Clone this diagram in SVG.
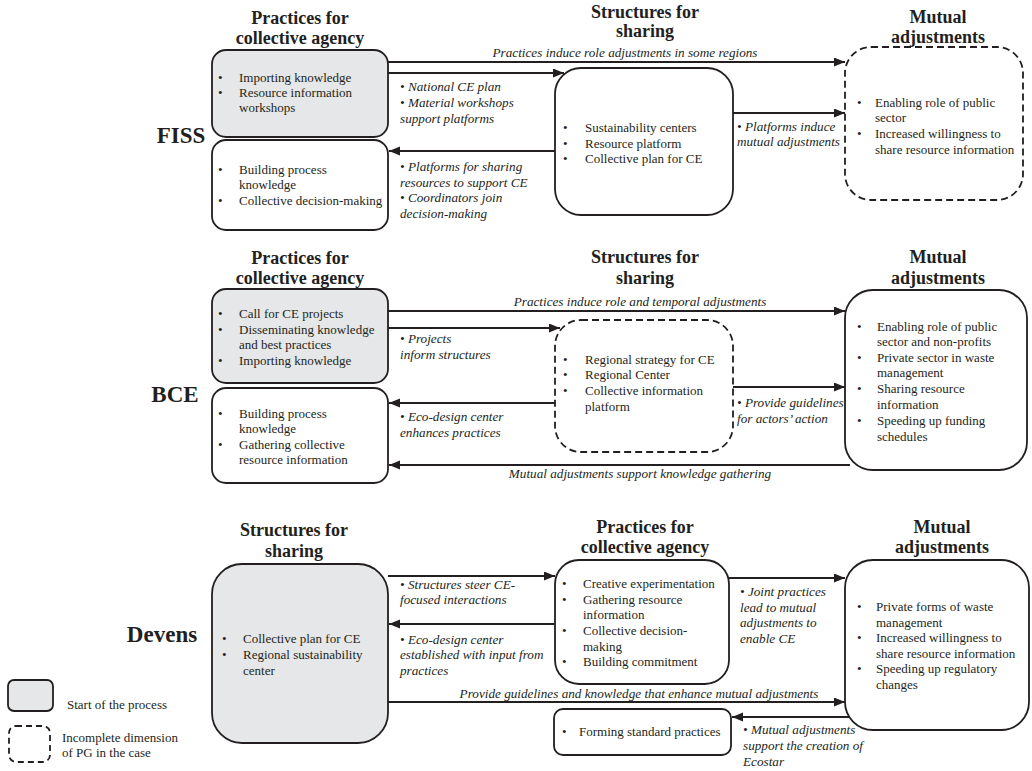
<svg xmlns="http://www.w3.org/2000/svg" width="1032" height="771" viewBox="0 0 1032 771">
<defs>
<marker id="ah" markerUnits="userSpaceOnUse" markerWidth="12" markerHeight="10" refX="11" refY="4.5" orient="auto">
<path d="M0,0 L11,4.5 L0,9 Z" fill="#231f20"/>
</marker>
<style>
.bx{fill:#fff;stroke:#231f20;stroke-width:1.8}
.st{fill:#e6e7e8;stroke:#231f20;stroke-width:1.8}
.ds{fill:#fff;stroke:#231f20;stroke-width:1.8;stroke-dasharray:7,4}
.t{font-family:"Liberation Serif","Times New Roman",serif;font-size:13px;fill:#231f20}
.i{font-family:"Liberation Serif","Times New Roman",serif;font-size:13.2px;font-style:italic;fill:#231f20}
.h{font-family:"Liberation Serif","Times New Roman",serif;font-size:18px;font-weight:bold;fill:#231f20;text-anchor:middle}
.c{font-family:"Liberation Serif","Times New Roman",serif;font-size:23px;font-weight:bold;fill:#231f20;text-anchor:middle}
.a{stroke:#231f20;stroke-width:1.8;fill:none;marker-end:url(#ah)}
</style>
</defs>
<rect width="1032" height="771" fill="#fff"/>

<!-- case labels -->
<text class="c" x="181" y="143">FISS</text>
<text class="c" x="175" y="402">BCE</text>
<text class="c" x="162" y="642">Devens</text>

<!-- headings -->
<g id="headings">
<text class="h" x="300" y="24">Practices for</text>
<text class="h" x="300" y="44">collective agency</text>
<text class="h" x="645" y="18">Structures for</text>
<text class="h" x="645" y="37">sharing</text>
<text class="h" x="938" y="23">Mutual</text>
<text class="h" x="938" y="43">adjustments</text>

<text class="h" x="300" y="264">Practices for</text>
<text class="h" x="300" y="284">collective agency</text>
<text class="h" x="645" y="263">Structures for</text>
<text class="h" x="645" y="284">sharing</text>
<text class="h" x="938" y="263">Mutual</text>
<text class="h" x="938" y="284">adjustments</text>

<text class="h" x="294" y="536">Structures for</text>
<text class="h" x="294" y="557">sharing</text>
<text class="h" x="645" y="533">Practices for</text>
<text class="h" x="645" y="553">collective agency</text>
<text class="h" x="942" y="533">Mutual</text>
<text class="h" x="942" y="553">adjustments</text>
</g>

<!-- FISS -->
<g id="fiss-practices1">
<rect class="st" x="212" y="50" width="176" height="87" rx="14"/>
<text class="t" x="218" y="82">•</text><text class="t" x="239" y="82">Importing knowledge</text>
<text class="t" x="218" y="97">•</text><text class="t" x="239" y="97">Resource information</text>
<text class="t" x="239" y="112">workshops</text>
</g>
<g id="fiss-practices2">
<rect class="bx" x="212" y="140" width="176" height="90" rx="14"/>
<text class="t" x="218" y="174">•</text><text class="t" x="239" y="174">Building process</text>
<text class="t" x="239" y="189">knowledge</text>
<text class="t" x="218" y="205">•</text><text class="t" x="239" y="205">Collective decision-making</text>
</g>
<g id="fiss-structures">
<rect class="bx" x="555" y="68" width="178" height="147" rx="26"/>
<text class="t" x="563" y="132">•</text><text class="t" x="585" y="132">Sustainability centers</text>
<text class="t" x="563" y="148">•</text><text class="t" x="585" y="148">Resource platform</text>
<text class="t" x="563" y="163">•</text><text class="t" x="585" y="163">Collective plan for CE</text>
</g>
<g id="fiss-mutual">
<rect class="ds" x="845" y="47" width="178" height="153" rx="26"/>
<text class="t" x="857" y="107">•</text><text class="t" x="875" y="107">Enabling role of public</text>
<text class="t" x="875" y="122">sector</text>
<text class="t" x="857" y="138">•</text><text class="t" x="875" y="138">Increased willingness to</text>
<text class="t" x="875" y="154">share resource information</text>
</g>

<!-- BCE -->
<g id="bce-practices1">
<rect class="st" x="212" y="289" width="176" height="94" rx="14"/>
<text class="t" x="218" y="318">•</text><text class="t" x="239" y="318">Call for CE projects</text>
<text class="t" x="218" y="334">•</text><text class="t" x="239" y="334">Disseminating knowledge</text>
<text class="t" x="239" y="349">and best practices</text>
<text class="t" x="218" y="365">•</text><text class="t" x="239" y="365">Importing knowledge</text>
</g>
<g id="bce-practices2">
<rect class="bx" x="212" y="388" width="176" height="95" rx="14"/>
<text class="t" x="218" y="418">•</text><text class="t" x="239" y="418">Building process</text>
<text class="t" x="239" y="433">knowledge</text>
<text class="t" x="218" y="449">•</text><text class="t" x="239" y="449">Gathering collective</text>
<text class="t" x="239" y="464">resource information</text>
</g>
<g id="bce-structures">
<rect class="ds" x="555" y="320" width="178" height="132" rx="26"/>
<text class="t" x="563" y="364">•</text><text class="t" x="585" y="364">Regional strategy for CE</text>
<text class="t" x="563" y="379">•</text><text class="t" x="585" y="379">Regional Center</text>
<text class="t" x="563" y="395">•</text><text class="t" x="585" y="395">Collective information</text>
<text class="t" x="585" y="411">platform</text>
</g>
<g id="bce-mutual">
<rect class="bx" x="845" y="290" width="182" height="180" rx="28"/>
<text class="t" x="857" y="331">•</text><text class="t" x="877" y="331">Enabling role of public</text>
<text class="t" x="877" y="346">sector and non-profits</text>
<text class="t" x="857" y="362">•</text><text class="t" x="877" y="362">Private sector in waste</text>
<text class="t" x="877" y="377">management</text>
<text class="t" x="857" y="393">•</text><text class="t" x="877" y="393">Sharing resource</text>
<text class="t" x="877" y="409">information</text>
<text class="t" x="857" y="425">•</text><text class="t" x="877" y="425">Speeding up funding</text>
<text class="t" x="877" y="441">schedules</text>
</g>

<!-- Devens -->
<g id="devens-structures">
<rect class="st" x="212" y="564" width="176" height="179" rx="30"/>
<text class="t" x="222" y="643">•</text><text class="t" x="243" y="643">Collective plan for CE</text>
<text class="t" x="222" y="659">•</text><text class="t" x="243" y="659">Regional sustainability</text>
<text class="t" x="243" y="675">center</text>
</g>
<g id="devens-practices">
<rect class="bx" x="555" y="560" width="174" height="124" rx="24"/>
<text class="t" x="562" y="588">•</text><text class="t" x="583" y="588">Creative experimentation</text>
<text class="t" x="562" y="604">•</text><text class="t" x="583" y="604">Gathering resource</text>
<text class="t" x="583" y="619">information</text>
<text class="t" x="562" y="635">•</text><text class="t" x="583" y="635">Collective decision-</text>
<text class="t" x="583" y="651">making</text>
<text class="t" x="562" y="666">•</text><text class="t" x="583" y="666">Building commitment</text>
</g>
<g id="devens-mutual">
<rect class="bx" x="845" y="560" width="184" height="170" rx="28"/>
<text class="t" x="857" y="611">•</text><text class="t" x="876" y="611">Private forms of waste</text>
<text class="t" x="876" y="627">management</text>
<text class="t" x="857" y="642">•</text><text class="t" x="876" y="642">Increased willingness to</text>
<text class="t" x="876" y="658">share resource information</text>
<text class="t" x="857" y="673">•</text><text class="t" x="876" y="673">Speeding up regulatory</text>
<text class="t" x="876" y="689">changes</text>
</g>
<g id="devens-forming">
<rect class="bx" x="554" y="709" width="177" height="46" rx="9"/>
<text class="t" x="562" y="736">•</text><text class="t" x="579" y="736">Forming standard practices</text>
</g>

<!-- legend -->
<g id="legend">
<rect class="st" x="8" y="680" width="45" height="31" rx="6"/>
<text class="t" x="67" y="709">Start of the process</text>
<rect class="ds" x="9" y="726" width="41" height="36" rx="7" style="stroke-dasharray:6,4"/>
<text class="t" x="62" y="742">Incomplete dimension</text>
<text class="t" x="62" y="757">of PG in the case</text>
</g>

<!-- connectors -->
<g id="connectors">
<line class="a" x1="388" y1="62" x2="845" y2="62"/>
<line class="a" x1="388" y1="73" x2="564" y2="73"/>
<line class="a" x1="555" y1="151" x2="389" y2="151"/>
<line class="a" x1="733" y1="113" x2="845" y2="113"/>
<line class="a" x1="388" y1="311" x2="845" y2="311"/>
<line class="a" x1="388" y1="328" x2="560" y2="328"/>
<line class="a" x1="555" y1="403" x2="389" y2="403"/>
<line class="a" x1="733" y1="387" x2="845" y2="387"/>
<line class="a" x1="850" y1="465" x2="389" y2="465"/>
<line class="a" x1="388" y1="576" x2="555" y2="576"/>
<line class="a" x1="555" y1="624" x2="389" y2="624"/>
<line class="a" x1="729" y1="578" x2="845" y2="578"/>
<line class="a" x1="388" y1="702" x2="845" y2="702"/>
<line class="a" x1="850" y1="717" x2="732" y2="717"/>
</g>

<!-- connector labels -->
<g id="connector-labels">
<text class="i" x="625" y="57" text-anchor="middle">Practices induce role adjustments in some regions</text>
<text class="i" x="400" y="91">• National CE plan</text>
<text class="i" x="400" y="107">• Material workshops</text>
<text class="i" x="400" y="123">support platforms</text>
<text class="i" x="400" y="171">• Platforms for sharing</text>
<text class="i" x="400" y="187">resources to support CE</text>
<text class="i" x="400" y="202">• Coordinators join</text>
<text class="i" x="400" y="218">decision-making</text>
<text class="i" x="737" y="131">• Platforms induce</text>
<text class="i" x="737" y="146">mutual adjustments</text>

<text class="i" x="640" y="306" text-anchor="middle">Practices induce role and temporal adjustments</text>
<text class="i" x="400" y="343">• Projects</text>
<text class="i" x="400" y="359">inform structures</text>
<text class="i" x="400" y="421">• Eco-design center</text>
<text class="i" x="400" y="437">enhances  practices</text>
<text class="i" x="737" y="407">• Provide guidelines</text>
<text class="i" x="737" y="423">for actors’ action</text>
<text class="i" x="640" y="478" text-anchor="middle">Mutual adjustments support knowledge gathering</text>

<text class="i" x="400" y="589">• Structures steer CE-</text>
<text class="i" x="400" y="604">focused interactions</text>
<text class="i" x="400" y="644">• Eco-design center</text>
<text class="i" x="400" y="659">established with input from</text>
<text class="i" x="400" y="675">practices</text>
<text class="i" x="740" y="596">• Joint practices</text>
<text class="i" x="740" y="612">lead to mutual</text>
<text class="i" x="740" y="627">adjustments to</text>
<text class="i" x="740" y="643">enable CE</text>
<text class="i" x="639" y="698" text-anchor="middle">Provide guidelines and knowledge that enhance mutual adjustments</text>
<text class="i" x="743" y="734">• Mutual adjustments</text>
<text class="i" x="743" y="750">support the creation of</text>
<text class="i" x="743" y="766">Ecostar</text>
</g>
</svg>
